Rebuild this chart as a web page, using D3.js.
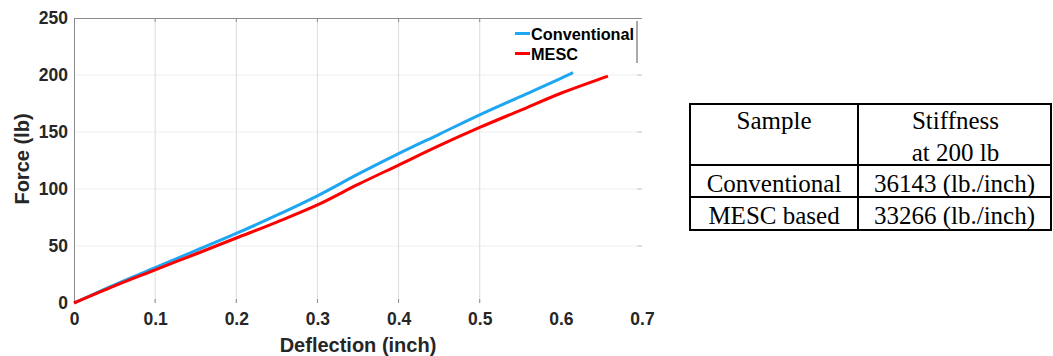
<!DOCTYPE html>
<html>
<head>
<meta charset="utf-8">
<script src="https://cdn.jsdelivr.net/npm/d3@7"></script>
<style>
  body { margin: 0; background: #fff; }
  svg { display: block; }
  .tick text { font-family: Arial, "Liberation Sans", sans-serif; font-weight: bold; }
</style>
</head>
<body>
<svg id="chart" width="1053" height="356"></svg>
<script>
// deflection (inch) / force (lb)
const convX = [0, 0.05, 0.1, 0.15, 0.2, 0.25, 0.3, 0.35, 0.4, 0.45, 0.5, 0.55, 0.6, 0.615];
const convY = [0, 16, 31, 46, 61, 77, 94, 113, 131, 148, 165, 181, 197, 202];
const mescX = [0, 0.05, 0.1, 0.15, 0.2, 0.25, 0.3, 0.35, 0.4, 0.45, 0.5, 0.55, 0.6, 0.65, 0.658];
const mescY = [0, 15, 29, 43, 57, 71, 86, 104, 121, 138, 154, 169, 184, 197, 199];

const xTicks = [0, 0.1, 0.2, 0.3, 0.4, 0.5, 0.6, 0.7];
const yTicks = [0, 50, 100, 150, 200, 250];
const xGrid = [0.1, 0.2, 0.3, 0.4, 0.5];

const seriesNames = ['Conventional', 'MESC'];
const seriesColors = ['#1ea6f2', '#ff0000'];

const tableHead = [['Sample'], ['Stiffness', 'at 200 lb']];
const tableSamples = ['Conventional', 'MESC based'];
const tableStiffness = ['36143 (lb./inch)', '33266 (lb./inch)'];

const svg = d3.select('#chart');
const margin = { left: 74, top: 18, right: 642, bottom: 303 };
const sans = 'Arial, "Liberation Sans", sans-serif';

const x = d3.scaleLinear().domain([0, 0.7]).range([margin.left, margin.right]);
const y = d3.scaleLinear().domain([0, 250]).range([margin.bottom, margin.top]);

// grid
const grid = svg.append('g');
grid.selectAll('line.h')
  .data(yTicks.filter(d => d > 0 && d < 250))
  .enter().append('line')
  .attr('x1', margin.left).attr('x2', margin.right)
  .attr('y1', d => y(d)).attr('y2', d => y(d))
  .attr('stroke', '#efefef').attr('stroke-width', 1);
grid.selectAll('line.v')
  .data(xGrid)
  .enter().append('line')
  .attr('x1', d => x(d)).attr('x2', d => x(d))
  .attr('y1', margin.top).attr('y2', margin.bottom)
  .attr('stroke', '#dcdcdc').attr('stroke-width', 1);

// frame: top edge only (left edge comes with the axis)
svg.append('line')
  .attr('x1', margin.left).attr('x2', margin.right)
  .attr('y1', margin.top + 0.5).attr('y2', margin.top + 0.5)
  .attr('stroke', '#8c8c8c');

// small inner ticks
grid.selectAll('line.tt')
  .data(xGrid)
  .enter().append('line')
  .attr('x1', d => x(d)).attr('x2', d => x(d))
  .attr('y1', margin.top).attr('y2', margin.top + 4)
  .attr('stroke', '#8c8c8c');
grid.selectAll('line.bt')
  .data(xGrid)
  .enter().append('line')
  .attr('x1', d => x(d)).attr('x2', d => x(d))
  .attr('y1', margin.bottom - 4).attr('y2', margin.bottom)
  .attr('stroke', '#8c8c8c');
grid.selectAll('line.rt')
  .data(yTicks.filter(d => d > 0 && d < 250))
  .enter().append('line')
  .attr('x1', margin.right - 5).attr('x2', margin.right)
  .attr('y1', d => y(d)).attr('y2', d => y(d))
  .attr('stroke', '#c8c8c8');

// axes
const yAxis = svg.append('g')
  .attr('transform', `translate(${margin.left},0)`)
  .call(d3.axisLeft(y).tickValues(yTicks).tickSize(0).tickPadding(6));
yAxis.select('.domain').attr('stroke', '#8c8c8c');
yAxis.selectAll('text').attr('font-size', 17.5).attr('fill', '#262626');

const xAxis = svg.append('g')
  .attr('transform', `translate(0,${margin.bottom})`)
  .call(d3.axisBottom(x).tickValues(xTicks).tickSize(0).tickPadding(10)
    .tickFormat(d => d === 0 ? '0' : d3.format('.1f')(d)));
xAxis.select('.domain').remove();
xAxis.selectAll('text').attr('font-size', 17.5).attr('fill', '#262626');

svg.append('text')
  .attr('transform', `translate(29,159) rotate(-90)`)
  .attr('text-anchor', 'middle')
  .attr('font-family', sans)
  .attr('font-weight', 'bold').attr('font-size', 20).attr('fill', '#262626')
  .text('Force (lb)');

svg.append('text')
  .attr('x', 358).attr('y', 352)
  .attr('text-anchor', 'middle')
  .attr('font-family', sans)
  .attr('font-weight', 'bold').attr('font-size', 20).attr('fill', '#262626')
  .text('Deflection (inch)');

// curves
const line = d3.line().x(d => x(d[0])).y(d => y(d[1])).curve(d3.curveMonotoneX);
const series = [d3.zip(convX, convY), d3.zip(mescX, mescY)];

svg.append('g').selectAll('path')
  .data(series)
  .enter().append('path')
  .attr('d', line)
  .attr('fill', 'none')
  .attr('stroke', (d, i) => seriesColors[i])
  .attr('stroke-width', 3);

// legend
const legend = svg.append('g');
legend.append('rect')
  .attr('x', 512).attr('y', 21).attr('width', 125).attr('height', 43)
  .attr('fill', '#fff');
legend.append('line')
  .attr('x1', 637).attr('x2', 637).attr('y1', 21).attr('y2', 63)
  .attr('stroke', '#555').attr('stroke-width', 1);
seriesNames.forEach((name, i) => {
  const ly = 33.5 + i * 20;
  legend.append('line')
    .attr('x1', 515).attr('x2', 530).attr('y1', ly).attr('y2', ly)
    .attr('stroke', seriesColors[i]).attr('stroke-width', 3);
  legend.append('text')
    .attr('x', 531).attr('y', ly + 6)
    .attr('font-family', sans)
    .attr('font-weight', 'bold').attr('font-size', 16.3).attr('fill', '#000')
    .text(name);
});

// table
const tbl = svg.append('g');
const colX = [690, 858, 1051];
const rowY = [104, 165, 197, 230];
tbl.append('rect')
  .attr('x', colX[0]).attr('y', rowY[0])
  .attr('width', colX[2] - colX[0]).attr('height', rowY[3] - rowY[0])
  .attr('fill', 'none').attr('stroke', '#000').attr('stroke-width', 2);
tbl.append('line')
  .attr('x1', colX[1]).attr('x2', colX[1]).attr('y1', rowY[0]).attr('y2', rowY[3])
  .attr('stroke', '#000').attr('stroke-width', 2);
tbl.selectAll('line.row')
  .data([rowY[1], rowY[2]])
  .enter().append('line')
  .attr('x1', colX[0]).attr('x2', colX[2])
  .attr('y1', d => d).attr('y2', d => d)
  .attr('stroke', '#000').attr('stroke-width', 2);

const cellText = (cx, cy, s) => tbl.append('text')
  .attr('x', cx).attr('y', cy)
  .attr('text-anchor', 'middle')
  .attr('font-family', '"Times New Roman", "Liberation Serif", serif')
  .attr('font-size', 25).attr('fill', '#000')
  .text(s);

const c1 = (colX[0] + colX[1]) / 2, c2 = (colX[1] + colX[2]) / 2;
tableHead[0].forEach((s, i) => cellText(c1, 129 + i * 32, s));
tableHead[1].forEach((s, i) => cellText(c2 + 1, 129 + i * 32, s));
tableSamples.forEach((s, i) => cellText(c1, 192 + i * 32, s));
tableStiffness.forEach((s, i) => cellText(c2, 192 + i * 32, s));
</script>
</body>
</html>
